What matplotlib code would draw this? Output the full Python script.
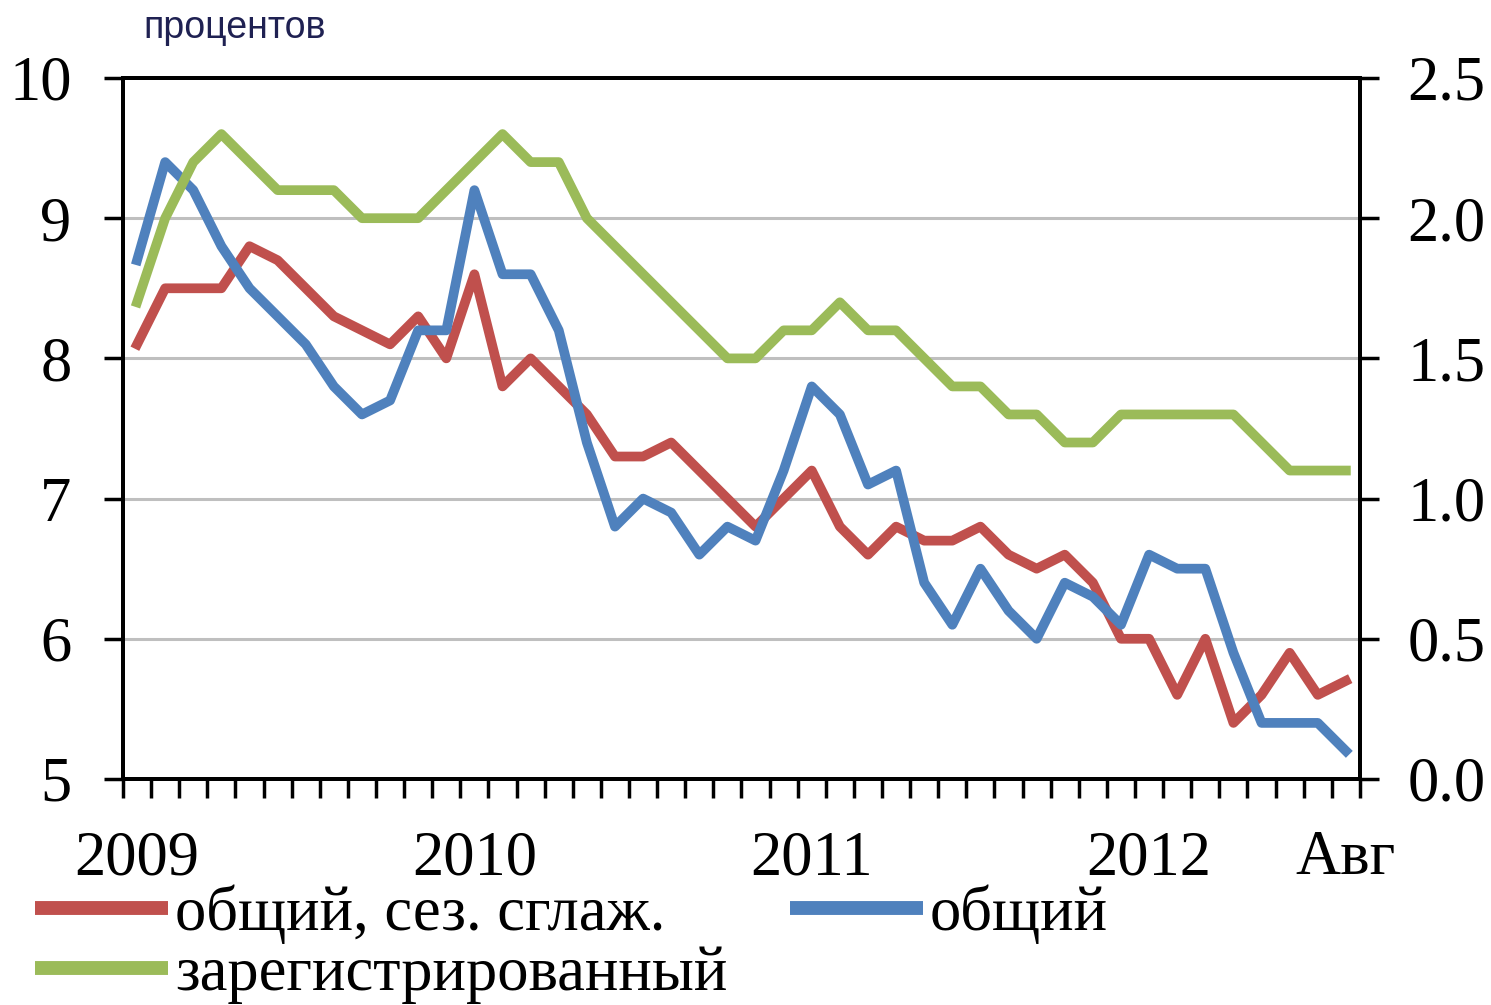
import matplotlib
matplotlib.use("Agg")
import matplotlib.pyplot as plt
import numpy as np

# месяцы: январь 2009 - август 2012
months = np.arange(44)
year_ticks = [0, 12, 24, 36, 43]
year_labels = ['2009', '2010', '2011', '2012', 'Авг']

# общий, сезонно сглаженный (левая ось, %)
total_sa = [8.1, 8.5, 8.5, 8.5, 8.8, 8.7, 8.5, 8.3, 8.2, 8.1, 8.3, 8.0,
            8.6, 7.8, 8.0, 7.8, 7.6, 7.3, 7.3, 7.4, 7.2, 7.0, 6.8, 7.0,
            7.2, 6.8, 6.6, 6.8, 6.7, 6.7, 6.8, 6.6, 6.5, 6.6, 6.4, 6.0,
            6.0, 5.6, 6.0, 5.4, 5.6, 5.9, 5.6, 5.7]

# общий (левая ось, %)
total = [8.7, 9.4, 9.2, 8.8, 8.5, 8.3, 8.1, 7.8, 7.6, 7.7, 8.2, 8.2,
         9.2, 8.6, 8.6, 8.2, 7.4, 6.8, 7.0, 6.9, 6.6, 6.8, 6.7, 7.2,
         7.8, 7.6, 7.1, 7.2, 6.4, 6.1, 6.5, 6.2, 6.0, 6.4, 6.3, 6.1,
         6.6, 6.5, 6.5, 5.9, 5.4, 5.4, 5.4, 5.2]

# зарегистрированный (правая ось, %)
registered = [1.7, 2.0, 2.2, 2.3, 2.2, 2.1, 2.1, 2.1, 2.0, 2.0, 2.0, 2.1,
              2.2, 2.3, 2.2, 2.2, 2.0, 1.9, 1.8, 1.7, 1.6, 1.5, 1.5, 1.6,
              1.6, 1.7, 1.6, 1.6, 1.5, 1.4, 1.4, 1.3, 1.3, 1.2, 1.2, 1.3,
              1.3, 1.3, 1.3, 1.3, 1.2, 1.1, 1.1, 1.1]

left_ticks = [5, 6, 7, 8, 9, 10]
right_ticks = [0.0, 0.5, 1.0, 1.5, 2.0, 2.5]

serif = ['Liberation Serif', 'DejaVu Serif']
fs = 45

fig = plt.figure(figsize=(14.91, 10.05), dpi=100)
ax = fig.add_axes([0.0825, 0.2249, 0.8296, 0.6975])
ax2 = ax.twinx()

l1, = ax.plot(months, total_sa, color='#C0504D', lw=7, solid_joinstyle='round',
              label='общий, сез. сглаж.')
l2, = ax.plot(months, total, color='#4F81BD', lw=7, solid_joinstyle='round',
              label='общий')
l3, = ax2.plot(months, registered, color='#9BBB59', lw=7, solid_joinstyle='round',
               label='зарегистрированный')

ax.set_xlim(-0.5, 43.5)
ax.set_ylim(5, 10)
ax2.set_ylim(0, 2.5)

# сетка
for v in left_ticks[1:-1]:
    ax.axhline(v, color='#BFBFBF', lw=2.2, zorder=0)

ax.set_yticks(left_ticks)
ax.set_yticklabels([str(v) for v in left_ticks], fontfamily=serif, fontsize=fs)
ax2.set_yticks(right_ticks)
ax2.set_yticklabels(['%.1f' % v for v in right_ticks], fontfamily=serif, fontsize=fs)

ax.set_xticks(year_ticks)
ax.set_xticklabels(year_labels, fontfamily=serif, fontsize=fs)
ax.set_xticks(np.arange(-0.5, 44, 1), minor=True)

ax.tick_params(axis='x', which='major', length=0, pad=37)
ax.tick_params(axis='x', which='minor', length=14, width=2.5, direction='out')
ax.tick_params(axis='y', length=14, width=2.5, direction='out', pad=23)
ax2.tick_params(axis='y', length=14, width=2.5, direction='out', pad=20)

for a in (ax, ax2):
    for s in a.spines.values():
        s.set_linewidth(2.8)
        s.set_color('black')

fig.text(143 / 1491, 1 - 38 / 1005, 'процентов', fontfamily='Liberation Sans',
         fontsize=27, color='#1F2152', ha='left', va='baseline')

leg = fig.legend(handles=[l1, l3, l2], ncol=2, loc='upper left',
                 bbox_to_anchor=(35 / 1491, 1 - 884 / 1005), frameon=False,
                 prop={'family': serif, 'size': fs}, handlelength=2.13,
                 handletextpad=0.11, columnspacing=1.0, labelspacing=0.04,
                 borderpad=0, borderaxespad=0)
for line in leg.get_lines():
    line.set_linewidth(10)
    line.set_solid_capstyle('butt')

fig.savefig('out.png', dpi=100)
